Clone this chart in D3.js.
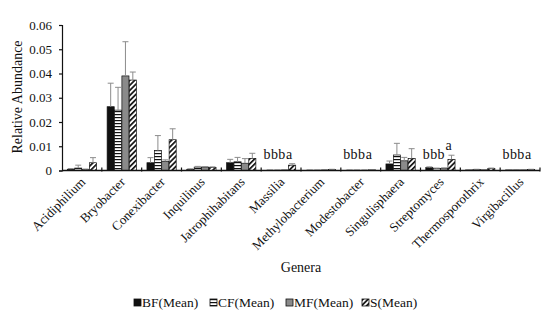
<!DOCTYPE html>
<html>
<head>
<meta charset="utf-8">
<script src="https://cdn.jsdelivr.net/npm/d3@7"></script>
<style>
  body { margin: 0; background: #fff; }
</style>
</head>
<body>
<div id="chart"></div>
<script>
// data
const genera = ["Acidiphilium", "Bryobacter", "Conexibacter", "Inquilinus", "Jatrophihabitans",
  "Massilia", "Methylobacterium", "Modestobacter", "Singulisphaera", "Streptomyces",
  "Thermosporothrix", "Virgibacillus"];
const groups = ["BF", "CF", "MF", "S"];
const legendLabels = ["BF(Mean)", "CF(Mean)", "MF(Mean)", "S(Mean)"];

const bfMean = [0.0005, 0.0263, 0.0032, 0.0005, 0.0032, 0.0001, 0.0001, 0.0001, 0.0027, 0.0012, 0.0002, 0.0002];
const cfMean = [0.0010, 0.0249, 0.0082, 0.0014, 0.0036, 0.0001, 0.0001, 0.0001, 0.0064, 0.0008, 0.0004, 0.0002];
const mfMean = [0.0004, 0.0390, 0.0038, 0.0014, 0.0030, 0.0002, 0.0002, 0.0001, 0.0040, 0.0009, 0.0003, 0.0002];
const sMean  = [0.0032, 0.0373, 0.0127, 0.0013, 0.0050, 0.0022, 0.0004, 0.0003, 0.0050, 0.0046, 0.0008, 0.0004];

const bfErr = [0.0003, 0.0097, 0.0021, 0.0002, 0.0014, 0.0001, 0.0001, 0.0001, 0.0012, 0.0003, 0.0001, 0.0001];
const cfErr = [0.0012, 0.0094, 0.0062, 0.0003, 0.0018, 0.0001, 0.0001, 0.0001, 0.0048, 0.0002, 0.0001, 0.0001];
const mfErr = [0.0002, 0.0141, 0.0006, 0.0002, 0.0019, 0.0001, 0.0001, 0.0001, 0.0014, 0.0002, 0.0001, 0.0001];
const sErr  = [0.0021, 0.0033, 0.0045, 0.0002, 0.0021, 0.0006, 0.0001, 0.0001, 0.0040, 0.0017, 0.0002, 0.0001];

// significance letters (per bar)
const letters = {
  "Massilia": ["b", "b", "b", "a"],
  "Modestobacter": ["b", "b", "b", "a"],
  "Streptomyces": ["b", "b", "b", "a"],
  "Virgibacillus": ["b", "b", "b", "a"]
};

const yTicks = [0, 0.01, 0.02, 0.03, 0.04, 0.05, 0.06];

const FONT = "'Liberation Serif', 'Times New Roman', 'DejaVu Serif', serif";
const INK = "#111";

const means = [bfMean, cfMean, mfMean, sMean];
const errs = [bfErr, cfErr, mfErr, sErr];
const rows = [];
genera.forEach((g, i) => {
  groups.forEach((k, j) => {
    rows.push({genus: g, group: k, idx: j, value: means[j][i], err: errs[j][i]});
  });
});

const width = 550, height = 328;
const margin = {left: 62, right: 10, top: 25, bottom: 157.5};

const svg = d3.select("#chart").append("svg")
  .attr("width", width)
  .attr("height", height)
  .attr("font-family", FONT);

// patterns
const defs = svg.append("defs");
const pCF = defs.append("pattern").attr("id", "pat-cf")
  .attr("patternUnits", "userSpaceOnUse").attr("width", 4).attr("height", 3);
pCF.append("rect").attr("width", 4).attr("height", 3).attr("fill", "#fff");
pCF.append("rect").attr("y", 0).attr("width", 4).attr("height", 1.2).attr("fill", "#111");

const pS = defs.append("pattern").attr("id", "pat-s")
  .attr("patternUnits", "userSpaceOnUse").attr("width", 3.6).attr("height", 3.6)
  .attr("patternTransform", "rotate(45)");
pS.append("rect").attr("width", 3.6).attr("height", 3.6).attr("fill", "#fff");
pS.append("rect").attr("x", 0).attr("width", 1.7).attr("height", 3.6).attr("fill", "#111");

const fills = {BF: "#111", CF: "url(#pat-cf)", MF: "#8a8a8a", S: "url(#pat-s)"};

const x0 = d3.scaleBand()
  .domain(genera)
  .range([margin.left, width - margin.right])
  .padding(0);

const x1 = d3.scaleBand()
  .domain(groups)
  .range([5, x0.bandwidth() - 5])
  .padding(0.04);

const y = d3.scaleLinear()
  .domain([0, 0.06])
  .range([height - margin.bottom, margin.top]);

// bars
const barG = svg.append("g").attr("class", "bars");
barG.selectAll("rect")
  .data(rows)
  .join("rect")
  .attr("x", d => x0(d.genus) + x1(d.group))
  .attr("y", d => y(d.value))
  .attr("width", x1.bandwidth())
  .attr("height", d => y(0) - y(d.value))
  .attr("fill", d => fills[d.group])
  .attr("stroke", "#111")
  .attr("stroke-width", 0.7);

// error bars (upper only)
const errG = svg.append("g").attr("class", "errors")
  .attr("stroke", "#8c8c8c").attr("stroke-width", 1);
errG.selectAll("line.v")
  .data(rows)
  .join("line")
  .attr("class", "v")
  .attr("x1", d => x0(d.genus) + x1(d.group) + x1.bandwidth() / 2)
  .attr("x2", d => x0(d.genus) + x1(d.group) + x1.bandwidth() / 2)
  .attr("y1", d => y(d.value))
  .attr("y2", d => y(d.value + d.err));
errG.selectAll("line.cap")
  .data(rows)
  .join("line")
  .attr("class", "cap")
  .attr("x1", d => x0(d.genus) + x1(d.group) + x1.bandwidth() / 2 - 3)
  .attr("x2", d => x0(d.genus) + x1(d.group) + x1.bandwidth() / 2 + 3)
  .attr("y1", d => y(d.value + d.err))
  .attr("y2", d => y(d.value + d.err));

// letters
const letterRows = rows.filter(d => letters[d.genus]);
svg.append("g").attr("class", "letters")
  .selectAll("text")
  .data(letterRows)
  .join("text")
  .attr("x", d => x0(d.genus) + x1(d.group) + x1.bandwidth() / 2 - 3)
  .attr("y", d => Math.min(y(d.value + d.err) - 5, 159))
  .attr("text-anchor", "middle")
  .attr("font-size", 14)
  .attr("font-family", FONT)
  .attr("fill", INK)
  .text(d => letters[d.genus][d.idx]);

// y axis
const yAxis = svg.append("g")
  .attr("transform", `translate(${margin.left},0)`)
  .call(d3.axisLeft(y).tickValues(yTicks).tickSize(3).tickPadding(7)
    .tickFormat(d => d === 0 ? "0" : d3.format(".2f")(d)));
yAxis.attr("font-family", FONT);
yAxis.select(".domain").attr("stroke", "#111").attr("stroke-width", 1.2);
yAxis.selectAll(".tick line").attr("stroke", "#111").attr("stroke-width", 1.2);
yAxis.selectAll(".tick text").attr("font-size", 13).attr("fill", INK)
  .attr("font-family", FONT);

// x axis: line and ticks between categories
const xg = svg.append("g").attr("class", "x-axis");
xg.append("line")
  .attr("x1", margin.left).attr("x2", width - margin.right)
  .attr("y1", y(0)).attr("y2", y(0))
  .attr("stroke", "#111").attr("stroke-width", 1.4);
xg.selectAll("line.tk")
  .data(genera)
  .join("line")
  .attr("class", "tk")
  .attr("x1", d => x0(d) + x0.bandwidth())
  .attr("x2", d => x0(d) + x0.bandwidth())
  .attr("y1", y(0) - 3).attr("y2", y(0) + 1)
  .attr("stroke", "#111").attr("stroke-width", 1.2);

xg.selectAll("text")
  .data(genera)
  .join("text")
  .attr("transform", d => `translate(${x0(d) + x0.bandwidth() / 2 + 1},${y(0) + 9}) rotate(-45)`)
  .attr("text-anchor", "end")
  .attr("dy", "0.35em")
  .attr("font-size", 13)
  .attr("font-family", FONT)
  .attr("fill", INK)
  .text(d => d);

// axis titles
svg.append("text")
  .attr("x", (margin.left + width - margin.right) / 2)
  .attr("y", 272)
  .attr("text-anchor", "middle")
  .attr("font-size", 14)
  .attr("font-family", FONT)
  .attr("fill", INK)
  .text("Genera");

svg.append("text")
  .attr("transform", `translate(22,97) rotate(-90)`)
  .attr("text-anchor", "middle")
  .attr("font-size", 14)
  .attr("font-family", FONT)
  .attr("fill", INK)
  .text("Relative Abundance");

// legend
const legend = svg.append("g").attr("class", "legend")
  .attr("transform", "translate(134,299)");
const li = legend.selectAll("g")
  .data(groups)
  .join("g")
  .attr("transform", (d, i) => `translate(${i * 76},0)`);
li.append("rect")
  .attr("width", 7).attr("height", 7)
  .attr("fill", d => fills[d])
  .attr("stroke", "#111").attr("stroke-width", 0.8);
li.append("text")
  .attr("x", 8)
  .attr("y", 7.5)
  .attr("font-size", 13.5)
  .attr("font-family", FONT)
  .attr("fill", INK)
  .text((d, i) => legendLabels[i]);
</script>
</body>
</html>
